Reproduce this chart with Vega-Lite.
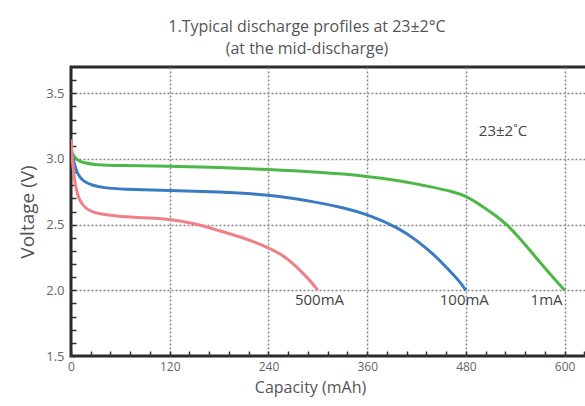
{
  "$schema": "https://vega.github.io/schema/vega-lite/v6.json",
  "autosize": "none",
  "padding": {"left": 71, "top": 67, "right": 0, "bottom": 50},
  "width": 520,
  "height": 289,
  "background": "white",
  "title": {
    "text": ["1.Typical discharge profiles at 23±2°C", "(at the mid-discharge)"],
    "anchor": "middle",
    "dx": -24,
    "offset": 10,
    "font": "Open Sans",
    "fontSize": 16,
    "fontWeight": "normal",
    "color": "#555",
    "lineHeight": 22
  },
  "datasets": {
    "curves": [
      {"series": "1mA", "capacity": 0, "voltage": 3.07},
      {"series": "1mA", "capacity": 3, "voltage": 3.02},
      {"series": "1mA", "capacity": 8, "voltage": 2.99},
      {"series": "1mA", "capacity": 15, "voltage": 2.97},
      {"series": "1mA", "capacity": 30, "voltage": 2.955},
      {"series": "1mA", "capacity": 60, "voltage": 2.95},
      {"series": "1mA", "capacity": 120, "voltage": 2.945},
      {"series": "1mA", "capacity": 180, "voltage": 2.935},
      {"series": "1mA", "capacity": 240, "voltage": 2.92},
      {"series": "1mA", "capacity": 300, "voltage": 2.9},
      {"series": "1mA", "capacity": 360, "voltage": 2.87},
      {"series": "1mA", "capacity": 400, "voltage": 2.835},
      {"series": "1mA", "capacity": 440, "voltage": 2.785},
      {"series": "1mA", "capacity": 465, "voltage": 2.75},
      {"series": "1mA", "capacity": 480, "voltage": 2.72},
      {"series": "1mA", "capacity": 500, "voltage": 2.64},
      {"series": "1mA", "capacity": 515, "voltage": 2.575},
      {"series": "1mA", "capacity": 530, "voltage": 2.5},
      {"series": "1mA", "capacity": 545, "voltage": 2.4},
      {"series": "1mA", "capacity": 561, "voltage": 2.28},
      {"series": "1mA", "capacity": 580, "voltage": 2.14},
      {"series": "1mA", "capacity": 600, "voltage": 2.0},
      {"series": "100mA", "capacity": 0, "voltage": 3.08},
      {"series": "100mA", "capacity": 3, "voltage": 2.98},
      {"series": "100mA", "capacity": 8, "voltage": 2.88},
      {"series": "100mA", "capacity": 15, "voltage": 2.83},
      {"series": "100mA", "capacity": 25, "voltage": 2.8},
      {"series": "100mA", "capacity": 40, "voltage": 2.78},
      {"series": "100mA", "capacity": 60, "voltage": 2.77},
      {"series": "100mA", "capacity": 120, "voltage": 2.76},
      {"series": "100mA", "capacity": 180, "voltage": 2.75},
      {"series": "100mA", "capacity": 240, "voltage": 2.73},
      {"series": "100mA", "capacity": 300, "voltage": 2.67},
      {"series": "100mA", "capacity": 330, "voltage": 2.63},
      {"series": "100mA", "capacity": 360, "voltage": 2.58},
      {"series": "100mA", "capacity": 400, "voltage": 2.47},
      {"series": "100mA", "capacity": 420, "voltage": 2.38},
      {"series": "100mA", "capacity": 440, "voltage": 2.28},
      {"series": "100mA", "capacity": 460, "voltage": 2.15},
      {"series": "100mA", "capacity": 472, "voltage": 2.07},
      {"series": "100mA", "capacity": 480, "voltage": 2.0},
      {"series": "500mA", "capacity": 0, "voltage": 3.15},
      {"series": "500mA", "capacity": 2, "voltage": 2.95},
      {"series": "500mA", "capacity": 5, "voltage": 2.8},
      {"series": "500mA", "capacity": 10, "voltage": 2.68},
      {"series": "500mA", "capacity": 18, "voltage": 2.62},
      {"series": "500mA", "capacity": 30, "voltage": 2.585},
      {"series": "500mA", "capacity": 60, "voltage": 2.56},
      {"series": "500mA", "capacity": 100, "voltage": 2.55},
      {"series": "500mA", "capacity": 120, "voltage": 2.54},
      {"series": "500mA", "capacity": 150, "voltage": 2.51},
      {"series": "500mA", "capacity": 177, "voltage": 2.46},
      {"series": "500mA", "capacity": 210, "voltage": 2.4},
      {"series": "500mA", "capacity": 238, "voltage": 2.33},
      {"series": "500mA", "capacity": 260, "voltage": 2.26},
      {"series": "500mA", "capacity": 274, "voltage": 2.18},
      {"series": "500mA", "capacity": 290, "voltage": 2.08},
      {"series": "500mA", "capacity": 300, "voltage": 2.0}
    ],
    "labels": [
      {"label": "500mA", "capacity": 302, "voltage": 1.93},
      {"label": "100mA", "capacity": 478, "voltage": 1.93},
      {"label": "1mA", "capacity": 578, "voltage": 1.93},
      {"label": "23±2˚C", "capacity": 525, "voltage": 3.21}
    ]
  },
  "layer": [
    {
      "data": {"name": "curves"},
      "mark": {"type": "line", "strokeWidth": 3, "interpolate": "basis", "clip": true},
      "encoding": {
        "x": {
          "field": "capacity",
          "type": "quantitative",
          "scale": {"domain": [0, 632], "nice": false, "zero": false},
          "axis": {
            "title": "Capacity (mAh)",
            "titleX": 239,
            "titlePadding": 7,
            "titleFont": "Open Sans",
            "titleFontSize": 16,
            "titleFontWeight": "normal",
            "titleColor": "#555",
            "tickCount": 100,
            "values": [0, 24, 48, 72, 96, 120, 144, 168, 192, 216, 240, 264, 288, 312, 336, 360, 384, 408, 432, 456, 480, 504, 528, 552, 576, 600, 624],
            "labelExpr": "datum.value % 120 === 0 ? datum.label : ''",
            "labelOverlap": false,
            "labelFlush": false,
            "labelFont": "Open Sans",
            "labelFontSize": 12,
            "labelColor": "#666",
            "labelPadding": 10,
            "tickSize": -5,
            "tickColor": "#333",
            "tickWidth": 1.5,
            "domain": false,
            "grid": true,
            "gridColor": "#888",
            "gridDash": [2, 2],
            "gridWidth": 1.5,
            "gridOpacity": {"condition": {"test": "datum.value % 120 === 0 && datum.value > 0", "value": 1}, "value": 0}
          }
        },
        "y": {
          "field": "voltage",
          "type": "quantitative",
          "scale": {"domain": [1.5, 3.7], "nice": false, "zero": false},
          "axis": {
            "title": "Voltage (V)",
            "titlePadding": 8,
            "titleFont": "Open Sans",
            "titleFontSize": 19,
            "titleFontWeight": "normal",
            "titleColor": "#555",
            "tickCount": 100,
            "values": [1.5, 1.6, 1.7, 1.8, 1.9, 2.0, 2.1, 2.2, 2.3, 2.4, 2.5, 2.6, 2.7, 2.8, 2.9, 3.0, 3.1, 3.2, 3.3, 3.4, 3.5, 3.6],
            "labelExpr": "abs(datum.value * 2 - round(datum.value * 2)) < 0.001 ? format(datum.value, '.1f') : ''",
            "labelOverlap": false,
            "labelFlush": false,
            "labelFont": "Open Sans",
            "labelFontSize": 13,
            "labelColor": "#666",
            "labelPadding": 12,
            "tickSize": -5,
            "tickColor": "#333",
            "tickWidth": 1.5,
            "domain": false,
            "grid": true,
            "gridColor": "#888",
            "gridDash": [2, 2],
            "gridWidth": 1.5,
            "gridOpacity": {"condition": {"test": "abs(datum.value * 2 - round(datum.value * 2)) < 0.001 && datum.value > 1.6", "value": 1}, "value": 0}
          }
        },
        "color": {
          "field": "series",
          "type": "nominal",
          "scale": {"domain": ["1mA", "100mA", "500mA"], "range": ["#4db848", "#3a7cc4", "#f08088"]},
          "legend": null
        }
      }
    },
    {
      "data": {"name": "labels"},
      "mark": {"type": "text", "font": "Open Sans", "fontSize": 15, "color": "#444", "align": "center", "baseline": "middle"},
      "encoding": {
        "x": {"field": "capacity", "type": "quantitative"},
        "y": {"field": "voltage", "type": "quantitative"},
        "text": {"field": "label", "type": "nominal"}
      }
    }
  ],
  "config": {
    "view": {"stroke": "#2a2a2a", "strokeWidth": 3}
  }
}
